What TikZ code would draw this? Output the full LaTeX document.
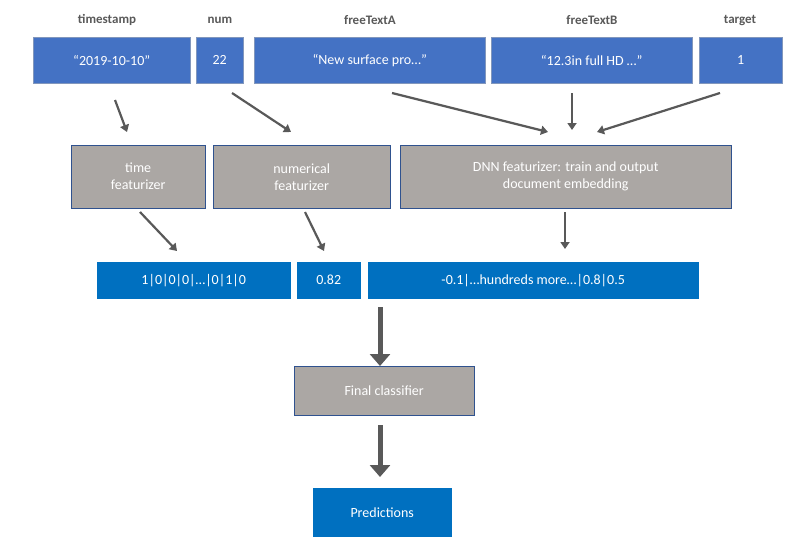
\documentclass[tikz,border=0pt]{standalone}
\usepackage{fontspec}
\setmainfont{Carlito}
\usetikzlibrary{positioning,arrows.meta}
\definecolor{inblue}{HTML}{4472C4}
\definecolor{outblue}{HTML}{0070C0}
\definecolor{featgray}{HTML}{ABA7A4}
\definecolor{edgeblue}{HTML}{2F528F}
\definecolor{arrgray}{HTML}{595959}
\tikzset{
  inbox/.style={draw=edgeblue!60, fill=inblue, text=white, font=\fontsize{14}{16}\selectfont, anchor=north west, minimum height=46pt, inner sep=0pt},
  featbox/.style={draw=edgeblue, fill=featgray, text=white, font=\fontsize{14}{17}\selectfont, anchor=north west, minimum height=63pt, inner sep=0pt, align=center},
  outbox/.style={draw=white, fill=outblue, text=white, font=\fontsize{14}{16}\selectfont, anchor=north west, minimum height=38pt, inner sep=0pt},
  colname/.style={text=arrgray, font=\bfseries\fontsize{13}{15}\selectfont},
  thin arrow/.style={draw=arrgray, line width=2.2pt, -{Triangle[length=7pt,width=9pt]}},
  thick arrow/.style={draw=arrgray, line width=5pt, -{Triangle[length=12pt,width=20pt]}}
}
\begin{document}
\begin{tikzpicture}[x=1pt,y=-1pt]
    \useasboundingbox (0,0) rectangle (799,541);

    % Column names
    \node[colname] (ntime) at (107,20) {timestamp};
    \node[colname] (nnum) at (220,20) {num};
    \node[colname] (nfta) at (370,20) {freeTextA};
    \node[colname] (nftb) at (592,20) {freeTextB};
    \node[colname] (ntarget) at (740,20) {target};

    % Input values
    \node[inbox, minimum width=157pt] (vtime) at (33,37) {“2019-10-10”};
    \node[inbox, minimum width=47pt] (vnum) at (196,37) {22};
    \node[inbox, minimum width=231pt] (vfta) at (254,37) {“New surface pro…”};
    \node[inbox, minimum width=201pt] (vftb) at (491,37) {“12.3in full HD …”};
    \node[inbox, minimum width=83pt] (vtarget) at (699,37) {1};

    % Featurizers
    \node[featbox, minimum width=134pt] (ftime) at (71,145) {time\\featurizer};
    \node[featbox, minimum width=177pt] (fnum) at (213,145) {numerical\\featurizer};
    \node[featbox, minimum width=331pt] (fdnn) at (400,145) {DNN featurizer: train and output\\document embedding};

    % Feature vectors
    \node[outbox, minimum width=195pt] (otime) at (96,261) {1|0|0|0|…|0|1|0};
    \node[outbox, minimum width=65pt] (onum) at (296,261) {0.82};
    \node[outbox, minimum width=332pt] (odnn) at (367,261) {-0.1|…hundreds more…|0.8|0.5};

    % Classifier and output
    \node[featbox, minimum width=180pt, minimum height=49pt] (clf) at (294,366) {Final classifier};
    \node[outbox, minimum width=140pt, minimum height=50pt] (pred) at (312,487) {Predictions};

    % Arrow ends
    \coordinate (a1s) at (115,100); \coordinate (a1e) at (127,132);
    \coordinate (a2s) at (232,93);  \coordinate (a2e) at (291,132);
    \coordinate (a3s) at (392,93);  \coordinate (a3e) at (548,132);
    \coordinate (a4s) at (572,93);  \coordinate (a4e) at (572,130);
    \coordinate (a5s) at (720,93);  \coordinate (a5e) at (597,132);
    \coordinate (b1s) at (140,212); \coordinate (b1e) at (177,251);
    \coordinate (b2s) at (305,212); \coordinate (b2e) at (324,251);
    \coordinate (b3s) at (565,212); \coordinate (b3e) at (565,249);

    \foreach \s/\e in {a1s/a1e,a2s/a2e,a3s/a3e,a4s/a4e,a5s/a5e,b1s/b1e,b2s/b2e,b3s/b3e}
        \draw[thin arrow] (\s) -- (\e);

    \draw[thick arrow] (380,307) -- (clf.north -| 380,0);
    \draw[thick arrow] (clf.south -| 380,0) ++(0,10) -- (380,477);
\end{tikzpicture}
\end{document}
